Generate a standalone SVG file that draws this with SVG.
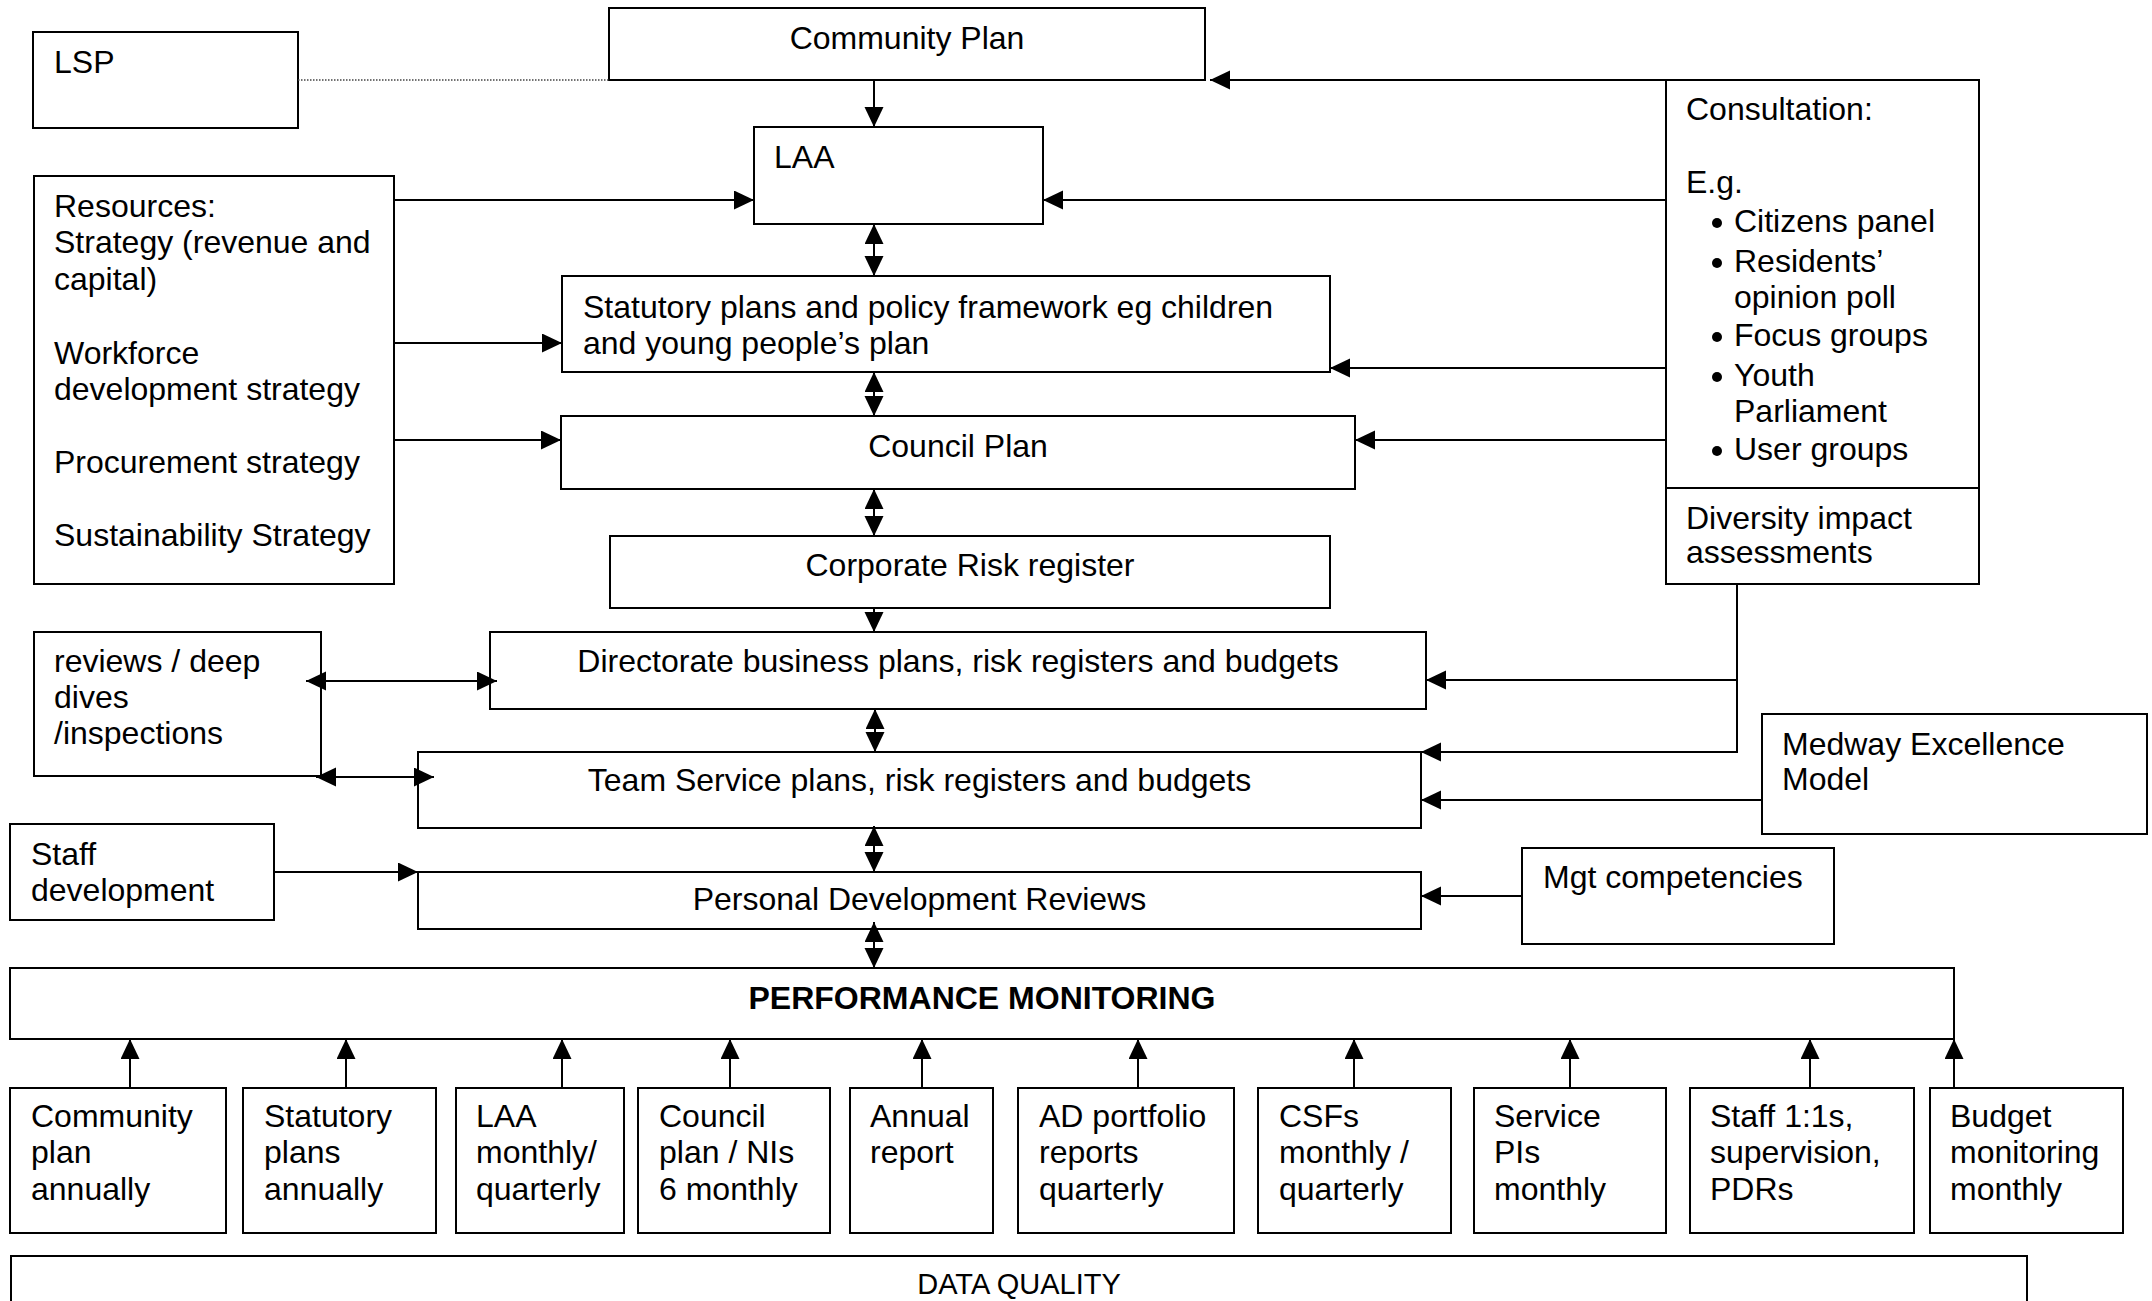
<svg xmlns="http://www.w3.org/2000/svg" width="2152" height="1301" viewBox="0 0 2152 1301">
<defs>
<style>
.box{fill:#fff;stroke:#000;stroke-width:2}
.t{font-family:"Liberation Sans",Arial,sans-serif;font-size:32px;fill:#000}
.c{text-anchor:middle}
.b{font-weight:bold}
.ln{fill:none;stroke:#000;stroke-width:2}
.one{marker-end:url(#ah)}
.two{marker-start:url(#ah);marker-end:url(#ah)}
.dot{fill:none;stroke:#444;stroke-width:1.5;stroke-dasharray:1.5 1.5}
</style>
<marker id="ah" markerUnits="userSpaceOnUse" markerWidth="20" markerHeight="20" refX="20" refY="9.5" orient="auto-start-reverse">
<path d="M0,0 L20,9.5 L0,19 z" fill="#000"/>
</marker>
</defs>
<rect width="2152" height="1301" fill="#fff"/>

<g id="lsp"><rect class="box" x="33" y="32" width="265" height="96"/><text class="t" x="54" y="73">LSP</text></g>
<g id="community-plan"><rect class="box" x="609" y="8" width="596" height="72"/><text class="t c" x="907" y="49">Community Plan</text></g>
<g id="laa"><rect class="box" x="754" y="127" width="289" height="97"/><text class="t" x="774" y="168">LAA</text></g>
<g id="resources"><rect class="box" x="34" y="176" width="360" height="408"/>
<text class="t" x="54" y="217">Resources:</text>
<text class="t" x="54" y="253">Strategy (revenue and</text>
<text class="t" x="54" y="290">capital)</text>
<text class="t" x="54" y="364">Workforce</text>
<text class="t" x="54" y="400">development strategy</text>
<text class="t" x="54" y="473">Procurement strategy</text>
<text class="t" x="54" y="546">Sustainability Strategy</text>
</g>
<g id="statutory"><rect class="box" x="562" y="276" width="768" height="96"/>
<text class="t" x="583" y="318">Statutory plans and policy framework eg children</text>
<text class="t" x="583" y="354">and young people’s plan</text></g>
<g id="council-plan"><rect class="box" x="561" y="416" width="794" height="73"/><text class="t c" x="958" y="457">Council Plan</text></g>
<g id="corporate-risk"><rect class="box" x="610" y="536" width="720" height="72"/><text class="t c" x="970" y="576">Corporate Risk register</text></g>
<g id="directorate"><rect class="box" x="490" y="632" width="936" height="77"/><text class="t c" x="958" y="672">Directorate business plans, risk registers and budgets</text></g>
<g id="team-service"><rect class="box" x="418" y="752" width="1003" height="76"/><text class="t c" x="919.5" y="791">Team Service plans, risk registers and budgets</text></g>
<g id="pdr"><rect class="box" x="418" y="872" width="1003" height="57"/><text class="t c" x="919.5" y="910">Personal Development Reviews</text></g>
<g id="reviews"><rect class="box" x="34" y="632" width="287" height="144"/>
<text class="t" x="54" y="672">reviews / deep</text>
<text class="t" x="54" y="708">dives</text>
<text class="t" x="54" y="744">/inspections</text></g>
<g id="staff-development"><rect class="box" x="10" y="824" width="264" height="96"/>
<text class="t" x="31" y="865">Staff</text>
<text class="t" x="31" y="901">development</text></g>
<g id="consultation"><rect class="box" x="1666" y="80" width="313" height="408"/>
<text class="t" x="1686" y="120">Consultation:</text>
<text class="t" x="1686" y="193">E.g.</text>
<circle cx="1717" cy="223" r="5"/><text class="t" x="1734" y="232">Citizens panel</text>
<circle cx="1717" cy="263" r="5"/><text class="t" x="1734" y="272">Residents’</text>
<text class="t" x="1734" y="308">opinion poll</text>
<circle cx="1717" cy="337" r="5"/><text class="t" x="1734" y="346">Focus groups</text>
<circle cx="1717" cy="377" r="5"/><text class="t" x="1734" y="386">Youth</text>
<text class="t" x="1734" y="422">Parliament</text>
<circle cx="1717" cy="451" r="5"/><text class="t" x="1734" y="460">User groups</text></g>
<g id="diversity"><rect class="box" x="1666" y="488" width="313" height="96"/>
<text class="t" x="1686" y="529">Diversity impact</text>
<text class="t" x="1686" y="563">assessments</text></g>
<g id="medway"><rect class="box" x="1762" y="714" width="385" height="120"/>
<text class="t" x="1782" y="755">Medway Excellence</text>
<text class="t" x="1782" y="790">Model</text></g>
<g id="mgt"><rect class="box" x="1522" y="848" width="312" height="96"/><text class="t" x="1543" y="888">Mgt competencies</text></g>
<g id="performance"><rect class="box" x="10" y="968" width="1944" height="71"/><text class="t c b" x="982" y="1009">PERFORMANCE MONITORING</text></g>

<g id="m1"><rect class="box" x="10" y="1088" width="216" height="145"/>
<text class="t" x="31" y="1127">Community</text><text class="t" x="31" y="1163">plan</text><text class="t" x="31" y="1200">annually</text></g>
<g id="m2"><rect class="box" x="243" y="1088" width="193" height="145"/>
<text class="t" x="264" y="1127">Statutory</text><text class="t" x="264" y="1163">plans</text><text class="t" x="264" y="1200">annually</text></g>
<g id="m3"><rect class="box" x="456" y="1088" width="168" height="145"/>
<text class="t" x="476" y="1127">LAA</text><text class="t" x="476" y="1163">monthly/</text><text class="t" x="476" y="1200">quarterly</text></g>
<g id="m4"><rect class="box" x="638" y="1088" width="192" height="145"/>
<text class="t" x="659" y="1127">Council</text><text class="t" x="659" y="1163">plan / NIs</text><text class="t" x="659" y="1200">6 monthly</text></g>
<g id="m5"><rect class="box" x="850" y="1088" width="143" height="145"/>
<text class="t" x="870" y="1127">Annual</text><text class="t" x="870" y="1163">report</text></g>
<g id="m6"><rect class="box" x="1018" y="1088" width="216" height="145"/>
<text class="t" x="1039" y="1127">AD portfolio</text><text class="t" x="1039" y="1163">reports</text><text class="t" x="1039" y="1200">quarterly</text></g>
<g id="m7"><rect class="box" x="1258" y="1088" width="193" height="145"/>
<text class="t" x="1279" y="1127">CSFs</text><text class="t" x="1279" y="1163">monthly /</text><text class="t" x="1279" y="1200">quarterly</text></g>
<g id="m8"><rect class="box" x="1474" y="1088" width="192" height="145"/>
<text class="t" x="1494" y="1127">Service</text><text class="t" x="1494" y="1163">PIs</text><text class="t" x="1494" y="1200">monthly</text></g>
<g id="m9"><rect class="box" x="1690" y="1088" width="224" height="145"/>
<text class="t" x="1710" y="1127">Staff 1:1s,</text><text class="t" x="1710" y="1163">supervision,</text><text class="t" x="1710" y="1200">PDRs</text></g>
<g id="m10"><rect class="box" x="1930" y="1088" width="193" height="145"/>
<text class="t" x="1950" y="1127">Budget</text><text class="t" x="1950" y="1163">monitoring</text><text class="t" x="1950" y="1200">monthly</text></g>
<g id="data-quality"><rect class="box" x="11" y="1256" width="2016" height="60"/><text class="t c" x="1019" y="1294" style="font-size:29px">DATA QUALITY</text></g>

<g id="connectors">
<line class="dot" x1="298" y1="80" x2="609" y2="80"/>
<line class="ln one" x1="874" y1="80" x2="874" y2="127"/>
<line class="ln two" x1="874" y1="224" x2="874" y2="276"/>
<line class="ln two" x1="874" y1="372" x2="874" y2="416"/>
<line class="ln two" x1="874" y1="489" x2="874" y2="536"/>
<line class="ln one" x1="874" y1="608" x2="874" y2="632"/>
<line class="ln two" x1="875" y1="709" x2="875" y2="752"/>
<line class="ln two" x1="874" y1="826" x2="874" y2="872"/>
<line class="ln two" x1="874" y1="922" x2="874" y2="968"/>
<line class="ln one" x1="394" y1="200" x2="754" y2="200"/>
<line class="ln one" x1="394" y1="343" x2="562" y2="343"/>
<line class="ln one" x1="394" y1="440" x2="561" y2="440"/>
<line class="ln one" x1="1666" y1="80" x2="1210" y2="80"/>
<line class="ln one" x1="1666" y1="200" x2="1043" y2="200"/>
<line class="ln one" x1="1666" y1="368" x2="1330" y2="368"/>
<line class="ln one" x1="1666" y1="440" x2="1355" y2="440"/>
<path class="ln one" d="M1737,584 V752 H1421"/>
<line class="ln one" x1="1737" y1="680" x2="1426" y2="680"/>
<line class="ln one" x1="1762" y1="800" x2="1421" y2="800"/>
<line class="ln one" x1="1522" y1="896" x2="1421" y2="896"/>
<line class="ln one" x1="274" y1="872" x2="418" y2="872"/>
<line class="ln two" x1="306" y1="681" x2="497" y2="681"/>
<line class="ln two" x1="316" y1="777" x2="434" y2="777"/>
<line class="ln one" x1="130" y1="1088" x2="130" y2="1039"/>
<line class="ln one" x1="346" y1="1088" x2="346" y2="1039"/>
<line class="ln one" x1="562" y1="1088" x2="562" y2="1039"/>
<line class="ln one" x1="730" y1="1088" x2="730" y2="1039"/>
<line class="ln one" x1="922" y1="1088" x2="922" y2="1039"/>
<line class="ln one" x1="1138" y1="1088" x2="1138" y2="1039"/>
<line class="ln one" x1="1354" y1="1088" x2="1354" y2="1039"/>
<line class="ln one" x1="1570" y1="1088" x2="1570" y2="1039"/>
<line class="ln one" x1="1810" y1="1088" x2="1810" y2="1039"/>
<line class="ln one" x1="1954" y1="1088" x2="1954" y2="1039"/>
</g>
</svg>
